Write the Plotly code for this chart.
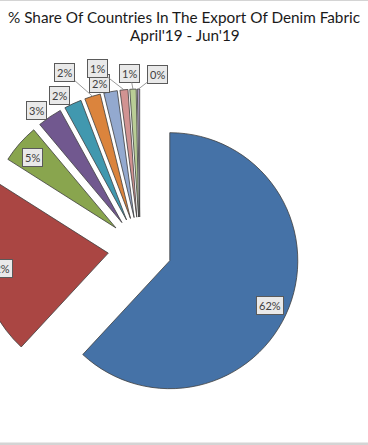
import math
import plotly.graph_objects as go

# ---------------- data ----------------
countries = ["Country 1", "Country 2", "Country 3", "Country 4", "Country 5",
             "Country 6", "Country 7", "Country 8", "Country 9", "Country 10"]
shares = [61.9, 22.1, 4.9, 3.1, 2.2, 2.0, 1.7, 1.0, 0.8, 0.3]
share_text = [f"{round(v)}%" for v in shares]
title_line1 = "% Share Of Countries In The Export Of Denim Fabric"
title_line2 = "April'19 - Jun'19"

# ---------------- style ----------------
colors = ["#4572A7", "#AA4643", "#89A54E", "#71588F", "#4198AF",
          "#DB843D", "#93A9CF", "#D19392", "#B9CD96", "#A99BBD"]
# label box offsets (px) from the outer middle of each slice
label_dx = [-18.5, 17.7, 12.4, -13.6, -13.0, -27.5, -11.5, -26.9, -3.0, 19.4]
label_dy = [-2.0, -0.6, 13.5, -6.9, -8.8, -24.2, -8.7, -20.9, -16.0, -15.0]
leader = [False, False, False, False, False, True, False, True, True, True]

SHIFT = 20
W = 368 + SHIFT
H = 445
PULL = 0.25
dom_x = [0.0, 320 / W]
dom_y = [1 - 409 / H, 1 - 89 / H]

fig = go.Figure(go.Pie(
    labels=countries, values=shares, sort=False, direction="clockwise",
    rotation=0, pull=[PULL] * len(shares), textinfo="none",
    marker=dict(colors=colors, line=dict(color="#3f3f3f", width=0.8)),
    domain=dict(x=dom_x, y=dom_y), showlegend=False,
))

# geometry as plotly computes it
box_w = W * (dom_x[1] - dom_x[0])
box_h = H * (dom_y[1] - dom_y[0])
r = min(box_w, box_h) / 2 / (1 + PULL)
cx = W * (dom_x[0] + dom_x[1]) / 2
cy = H * (1 - dom_y[0]) - box_h / 2
total = sum(shares)

annotations = []
cum = 0.0
lab_font = dict(family="Lato, Carlito, Calibri, sans-serif", size=11, color="#404040")
for i, v in enumerate(shares):
    mid = (cum + v / 2) / total * 2 * math.pi
    cum += v
    ux, uy = math.sin(mid), -math.cos(mid)
    px = cx + (PULL * r + r) * ux
    py = cy + (PULL * r + r) * uy
    annotations.append(dict(
        text=share_text[i], xref="paper", yref="paper", x=px / W, y=1 - py / H,
        font=lab_font, bgcolor="#e9e9e9", bordercolor="#5a5a5a", borderwidth=1, borderpad=2,
        showarrow=True, ax=label_dx[i], ay=label_dy[i], arrowhead=0, arrowwidth=0.8,
        arrowcolor="#808080" if leader[i] else "rgba(0,0,0,0)",
        standoff=0, startstandoff=0))

title_font = dict(family="Lato, Carlito, Calibri, sans-serif", size=15.3, color="#1a1a1a")
annotations.append(dict(text=title_line1, xref="paper", yref="paper", x=(184 + SHIFT) / W,
                        y=1 - 17 / H, showarrow=False, font=title_font, yanchor="middle"))
annotations.append(dict(text=title_line2, xref="paper", yref="paper", x=(185 + SHIFT) / W,
                        y=1 - 35 / H, showarrow=False, font=title_font, yanchor="middle"))

shapes = [
    dict(type="rect", xref="paper", yref="paper", x0=0, x1=1, y0=1 - 1 / H, y1=1,
         fillcolor="#d4d4d4", line=dict(width=0), layer="below"),
    dict(type="rect", xref="paper", yref="paper", x0=0, x1=1, y0=0, y1=2.5 / H,
         fillcolor="#d4d4d4", line=dict(width=0), layer="below"),
]

fig.update_layout(width=W, height=H, margin=dict(l=0, r=0, t=0, b=0),
                  paper_bgcolor="white", plot_bgcolor="white",
                  annotations=annotations, shapes=shapes)

post = ("document.body.style.margin='0';document.body.style.overflow='hidden';"
        f"document.getElementById('{{plot_id}}').style.marginLeft='-{SHIFT}px';")
fig.write_html("out.html", post_script=post, config={"displayModeBar": False})
